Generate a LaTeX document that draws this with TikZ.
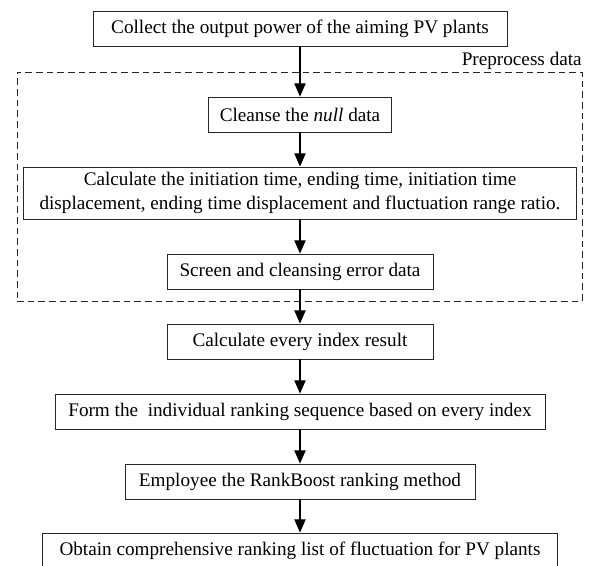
\documentclass[tikz,border=0pt]{standalone}
\usepackage{fontspec}
\setmainfont{Liberation Serif}
\usetikzlibrary{arrows.meta}

\begin{document}
\begin{tikzpicture}[x=0.75pt, y=-0.75pt,
      stage/.style={draw=black!85, line width=0.6pt, minimum height=26.25pt, inner sep=0pt, font=\fontsize{14.4}{17.5}\selectfont},
      flow/.style={line width=0.9pt, -{Triangle[length=10pt, width=8.5pt]}}]
      \useasboundingbox (0,0) rectangle (589,565);
      \node[draw=black!85, dashed, dash pattern=on 5pt off 3pt, line width=0.6pt, minimum width=423.75pt, minimum height=171.75pt] (preprocess) at (299.5,186.5) {};
      \node[anchor=base east, inner sep=0pt, font=\fontsize{14.4}{17.5}\selectfont] (prelabel) at (582,65) {Preprocess data};
      \node[stage, minimum width=310.5pt] (collect) at (300,28.5) {Collect the output power of the aiming PV plants};
      \node[stage, minimum width=137.25pt] (cleanse) at (300,114.5) {Cleanse the \textit{null} data};
      \node[stage, minimum width=414.75pt, minimum height=39pt, align=center] (calc) at (300,193) {Calculate the initiation time, ending time, initiation time\\displacement, ending time displacement and fluctuation range ratio.};
      \node[stage, minimum width=199.5pt] (screen) at (300,271.5) {Screen and cleansing error data};
      \node[stage, minimum width=199.5pt] (index) at (300,341.5) {Calculate every index result};
      \node[stage, minimum width=367.5pt] (form) at (300,411.5) {Form the~ individual ranking sequence based on every index};
      \node[stage, minimum width=262.5pt] (employ) at (300,481.5) {Employee the RankBoost ranking method};
      \node[stage, minimum width=386.25pt] (obtain) at (300,550.5) {Obtain comprehensive ranking list of fluctuation for PV plants};
      \foreach \a/\b in {collect/cleanse, cleanse/calc, calc/screen, screen/index, index/form, form/employ, employ/obtain}
      \draw[flow] (\a.south) -- (\b.north) ;
    \end{tikzpicture}
\end{document}
